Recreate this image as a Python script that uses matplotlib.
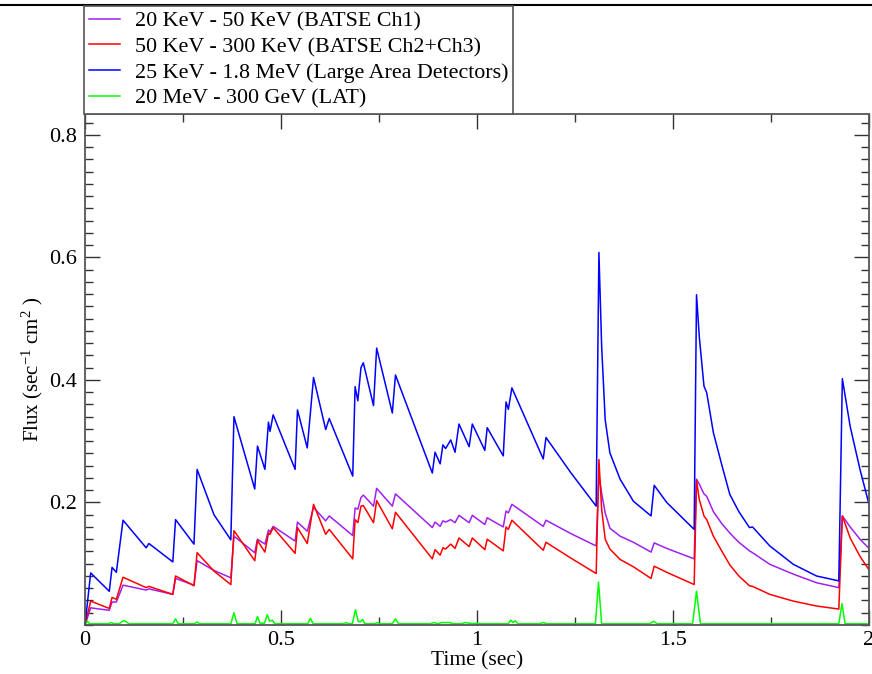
import matplotlib
matplotlib.use("Agg")
import matplotlib.pyplot as plt
from matplotlib.lines import Line2D
from matplotlib.ticker import MultipleLocator, FixedLocator, FixedFormatter

plt.rcParams['font.family'] = ['Liberation Serif', 'DejaVu Serif']
plt.rcParams['mathtext.fontset'] = 'custom'
plt.rcParams['mathtext.rm'] = 'Liberation Serif'
plt.rcParams['mathtext.it'] = 'Liberation Serif:italic'
plt.rcParams['mathtext.default'] = 'regular'

# ---------------- data ----------------
time_s = [0.000, 0.0145, 0.062, 0.069, 0.080, 0.097, 0.156, 0.163, 0.224, 0.231,
          0.278, 0.286, 0.329, 0.372, 0.380, 0.433, 0.440, 0.459, 0.468, 0.472,
          0.480, 0.536, 0.542, 0.567, 0.583, 0.614, 0.623, 0.683, 0.689, 0.696,
          0.704, 0.710, 0.736, 0.744, 0.784, 0.792, 0.886, 0.893, 0.906, 0.913,
          0.920, 0.933, 0.944, 0.954, 0.980, 0.988, 1.020, 1.026, 1.067, 1.074,
          1.080, 1.089, 1.169, 1.176, 1.240, 1.304, 1.311, 1.318, 1.327, 1.339,
          1.365, 1.399, 1.444, 1.452, 1.484, 1.554, 1.560, 1.567, 1.579, 1.586,
          1.603, 1.625, 1.645, 1.668, 1.695, 1.703, 1.747, 1.807, 1.866, 1.923,
          1.932, 1.952, 1.977, 2.000]

flux_lad = [0.000, 0.085, 0.055, 0.094, 0.086, 0.171, 0.126, 0.133, 0.103, 0.172,
            0.132, 0.254, 0.180, 0.139, 0.340, 0.222, 0.292, 0.254, 0.331, 0.316,
            0.343, 0.254, 0.351, 0.289, 0.404, 0.319, 0.337, 0.243, 0.389, 0.366,
            0.420, 0.428, 0.358, 0.452, 0.346, 0.408, 0.248, 0.282, 0.263, 0.294,
            0.288, 0.302, 0.282, 0.328, 0.291, 0.328, 0.285, 0.322, 0.276, 0.364,
            0.352, 0.387, 0.271, 0.306, 0.248, 0.194, 0.608, 0.455, 0.335, 0.281,
            0.238, 0.202, 0.178, 0.228, 0.200, 0.156, 0.539, 0.471, 0.390, 0.379,
            0.314, 0.260, 0.213, 0.185, 0.159, 0.160, 0.129, 0.099, 0.080, 0.072,
            0.402, 0.324, 0.254, 0.197]

flux_ch1 = [0.000, 0.028, 0.024, 0.0375, 0.0375, 0.065, 0.057, 0.059, 0.050, 0.076,
            0.065, 0.105, 0.089, 0.077, 0.145, 0.118, 0.140, 0.132, 0.155, 0.152,
            0.161, 0.137, 0.168, 0.153, 0.192, 0.170, 0.178, 0.146, 0.191, 0.189,
            0.208, 0.212, 0.194, 0.223, 0.194, 0.214, 0.159, 0.168, 0.161, 0.170,
            0.168, 0.172, 0.167, 0.179, 0.167, 0.179, 0.164, 0.175, 0.160, 0.186,
            0.183, 0.197, 0.161, 0.171, 0.149, 0.129, 0.245, 0.215, 0.183, 0.158,
            0.145, 0.135, 0.119, 0.134, 0.125, 0.108, 0.238, 0.230, 0.214, 0.210,
            0.185, 0.165, 0.150, 0.135, 0.121, 0.118, 0.099, 0.083, 0.069, 0.061,
            0.178, 0.160, 0.140, 0.125]

flux_ch23 = [0.000, 0.039, 0.027, 0.045, 0.042, 0.078, 0.061, 0.063, 0.050, 0.080,
             0.064, 0.118, 0.088, 0.066, 0.154, 0.105, 0.138, 0.119, 0.150, 0.148,
             0.159, 0.117, 0.159, 0.133, 0.197, 0.148, 0.156, 0.108, 0.172, 0.167,
             0.194, 0.195, 0.167, 0.203, 0.157, 0.184, 0.108, 0.123, 0.114, 0.126,
             0.124, 0.132, 0.125, 0.142, 0.128, 0.142, 0.123, 0.140, 0.121, 0.160,
             0.156, 0.171, 0.122, 0.135, 0.109, 0.084, 0.270, 0.189, 0.140, 0.124,
             0.107, 0.095, 0.076, 0.096, 0.086, 0.066, 0.236, 0.205, 0.178, 0.172,
             0.145, 0.120, 0.098, 0.080, 0.064, 0.063, 0.050, 0.039, 0.031, 0.026,
             0.178, 0.142, 0.112, 0.090]

time_lat = [0.000, 0.006, 0.012, 0.018, 0.060, 0.067, 0.074, 0.088, 0.095, 0.100,
            0.106, 0.112, 0.224, 0.231, 0.238, 0.280, 0.286, 0.292, 0.372, 0.380,
            0.388, 0.434, 0.440, 0.446, 0.458, 0.465, 0.471, 0.478, 0.484, 0.568,
            0.575, 0.582, 0.660, 0.666, 0.672, 0.682, 0.690, 0.697, 0.702, 0.708,
            0.714, 0.740, 0.746, 0.752, 0.784, 0.792, 0.800, 0.880, 0.890, 0.900,
            0.910, 0.930, 0.940, 0.960, 0.970, 0.990, 1.000, 1.010, 1.080, 1.086,
            1.092, 1.098, 1.104, 1.160, 1.169, 1.178, 1.302, 1.310, 1.318, 1.440,
            1.451, 1.460, 1.550, 1.560, 1.570, 1.923, 1.931, 1.939, 2.000]

flux_lat = [0.000, 0.006, 0.002, 0.002, 0.002, 0.004, 0.002, 0.002, 0.006, 0.007,
            0.005, 0.002, 0.002, 0.010, 0.002, 0.002, 0.005, 0.002, 0.002, 0.020,
            0.002, 0.002, 0.014, 0.003, 0.003, 0.017, 0.006, 0.008, 0.002, 0.002,
            0.011, 0.002, 0.002, 0.004, 0.002, 0.002, 0.025, 0.006, 0.005, 0.009,
            0.002, 0.002, 0.004, 0.002, 0.002, 0.010, 0.002, 0.002, 0.004, 0.002,
            0.004, 0.004, 0.002, 0.002, 0.004, 0.002, 0.003, 0.002, 0.002, 0.008,
            0.004, 0.007, 0.002, 0.002, 0.004, 0.002, 0.002, 0.070, 0.002, 0.002,
            0.006, 0.002, 0.002, 0.055, 0.002, 0.002, 0.035, 0.002, 0.002]

series_labels = ["20 KeV - 50 KeV (BATSE Ch1)",
                 "50 KeV - 300 KeV (BATSE Ch2+Ch3)",
                 "25 KeV - 1.8 MeV (Large Area Detectors)",
                 "20 MeV - 300 GeV (LAT)"]

x_ticks = [0, 0.5, 1, 1.5, 2]
x_tick_labels = ["0", "0.5", "1", "1.5", "2"]
y_ticks = [0.2, 0.4, 0.6, 0.8]
y_tick_labels = ["0.2", "0.4", "0.6", "0.8"]

# ---------------- figure ----------------
W, H = 872, 674
fig = plt.figure(figsize=(W / 100, H / 100), dpi=100)
ax = fig.add_axes([85 / W, 49 / H, 784 / W, 511 / H])

c_purple = '#a020f0'
c_red = '#ff0000'
c_blue = '#0000ff'
c_green = '#00ff00'
lw = 1.1

l1, = ax.plot(time_s, flux_ch1, color=c_purple, lw=lw)
l2, = ax.plot(time_s, flux_ch23, color=c_red, lw=lw)
l3, = ax.plot(time_s, flux_lad, color=c_blue, lw=lw)
l4, = ax.plot(time_lat, flux_lat, color=c_green, lw=lw)

ax.set_xlim(0, 2)
ax.set_ylim(0, 0.834)

ax.xaxis.set_major_locator(FixedLocator(x_ticks))
ax.xaxis.set_major_formatter(FixedFormatter(x_tick_labels))
ax.xaxis.set_minor_locator(MultipleLocator(0.25))
ax.yaxis.set_major_locator(FixedLocator(y_ticks))
ax.yaxis.set_major_formatter(FixedFormatter(y_tick_labels))
ax.yaxis.set_minor_locator(MultipleLocator(0.02))

spine_c = '#555555'
for s in ax.spines.values():
    s.set_color(spine_c)
    s.set_linewidth(1.3)

ax.tick_params(which='both', direction='in', top=True, right=True,
               color='#333333', width=1.0, labelsize=16)
ax.tick_params(which='major', length=11)
ax.tick_params(which='minor', length=5.5)
ax.tick_params(axis='x', which='major', pad=4)
ax.tick_params(axis='y', which='major', pad=6)

ax.set_xlabel("Time (sec)", fontsize=15.5, labelpad=1)
ax.set_ylabel("Flux (sec$^{-1}$ cm$^{2}$ )", fontsize=15, labelpad=3)

leg = fig.legend([l1, l2, l3, l4], series_labels, loc='upper left',
                 bbox_to_anchor=(84 / W, 1 - 6 / H), bbox_transform=fig.transFigure,
                 fontsize=15.8, frameon=True, fancybox=False, borderaxespad=0,
                 handlelength=1.4, handletextpad=0.7, labelspacing=0.25,
                 borderpad=0.22)
leg.get_frame().set_edgecolor('#555555')
leg.get_frame().set_linewidth(1.2)
leg.get_frame().set_alpha(1)

# top frame line of the page
fig.add_artist(Line2D([0, 1], [1 - 5 / H, 1 - 5 / H], transform=fig.transFigure,
                      color='black', lw=1.5))

fig.savefig("out.png", dpi=100)
